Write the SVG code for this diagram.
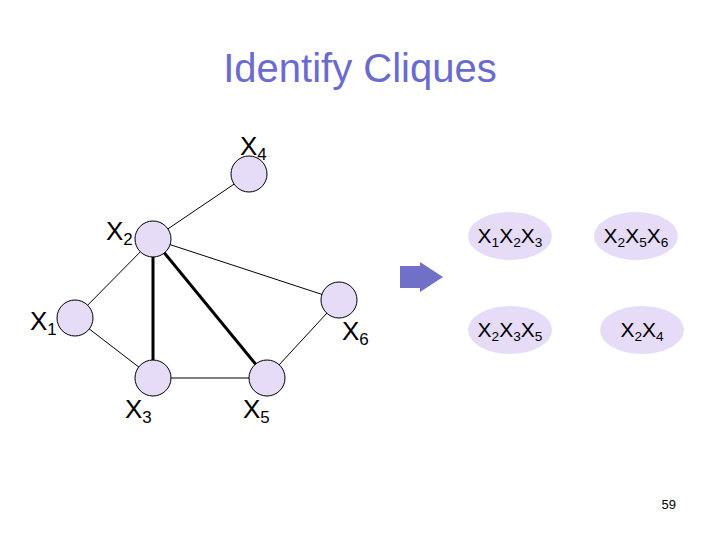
<svg xmlns="http://www.w3.org/2000/svg" width="720" height="540" viewBox="0 0 720 540">
<style>
.n{fill:#e6dcf8;stroke:#000;stroke-width:1}
.c{fill:#e6dcf8;stroke:none}
.t{font-family:"Liberation Sans",Arial,sans-serif;fill:#000}
.l{font-size:26px}
.e{font-size:21px;text-anchor:middle}
.s{font-size:0.65em}
</style>
<rect width="720" height="540" fill="#fff"/>
<text class="t" x="360" y="82" font-size="40" text-anchor="middle" fill="#6666cc" style="fill:#6a6ad0">Identify Cliques</text>
<g id="connectors" stroke="#000">
<line x1="249" y1="174" x2="153" y2="239" stroke-width="1"/>
<line x1="153" y1="239" x2="339" y2="300" stroke-width="1"/>
<line x1="153" y1="239" x2="75" y2="318" stroke-width="1"/>
<line x1="75" y1="318" x2="153" y2="378" stroke-width="1"/>
<line x1="153" y1="378" x2="267" y2="378" stroke-width="1"/>
<line x1="267" y1="378" x2="339" y2="300" stroke-width="1"/>
<line x1="153" y1="239" x2="153" y2="378" stroke-width="3"/>
<line x1="153" y1="239" x2="267" y2="378" stroke-width="3"/>
</g>
<g id="x4"><circle class="n" cx="249" cy="174" r="18"/><text class="t l" x="240" y="155">X<tspan class="s" dy="5">4</tspan></text></g>
<g id="x2"><circle class="n" cx="153" cy="239" r="18"/><text class="t l" x="106" y="240">X<tspan class="s" dy="5">2</tspan></text></g>
<g id="x1"><circle class="n" cx="75" cy="318" r="18"/><text class="t l" x="30" y="330">X<tspan class="s" dy="5">1</tspan></text></g>
<g id="x6"><circle class="n" cx="339" cy="300" r="18"/><text class="t l" x="342" y="340">X<tspan class="s" dy="5">6</tspan></text></g>
<g id="x3"><circle class="n" cx="153" cy="378" r="18"/><text class="t l" x="125" y="418">X<tspan class="s" dy="5">3</tspan></text></g>
<g id="x5"><circle class="n" cx="267" cy="378" r="18"/><text class="t l" x="243" y="418">X<tspan class="s" dy="5">5</tspan></text></g>
<g id="arrow"><polygon points="400,266 420,266 420,262 443,277 420,292 420,288 400,288" fill="#7070c8"/></g>
<g id="c123"><ellipse class="c" cx="510" cy="236" rx="42" ry="24"/><text class="t e" x="510" y="243">X<tspan class="s" dy="4">1</tspan><tspan dy="-4">X</tspan><tspan class="s" dy="4">2</tspan><tspan dy="-4">X</tspan><tspan class="s" dy="4">3</tspan></text></g>
<g id="c256"><ellipse class="c" cx="636" cy="236" rx="42" ry="24"/><text class="t e" x="636" y="243">X<tspan class="s" dy="4">2</tspan><tspan dy="-4">X</tspan><tspan class="s" dy="4">5</tspan><tspan dy="-4">X</tspan><tspan class="s" dy="4">6</tspan></text></g>
<g id="c235"><ellipse class="c" cx="510" cy="330" rx="42" ry="24"/><text class="t e" x="510" y="337">X<tspan class="s" dy="4">2</tspan><tspan dy="-4">X</tspan><tspan class="s" dy="4">3</tspan><tspan dy="-4">X</tspan><tspan class="s" dy="4">5</tspan></text></g>
<g id="c24"><ellipse class="c" cx="642" cy="330" rx="42" ry="24"/><text class="t e" x="642" y="337">X<tspan class="s" dy="4">2</tspan><tspan dy="-4">X</tspan><tspan class="s" dy="4">4</tspan></text></g>
<text class="t" x="676" y="509" font-size="13" text-anchor="end">59</text>
</svg>
